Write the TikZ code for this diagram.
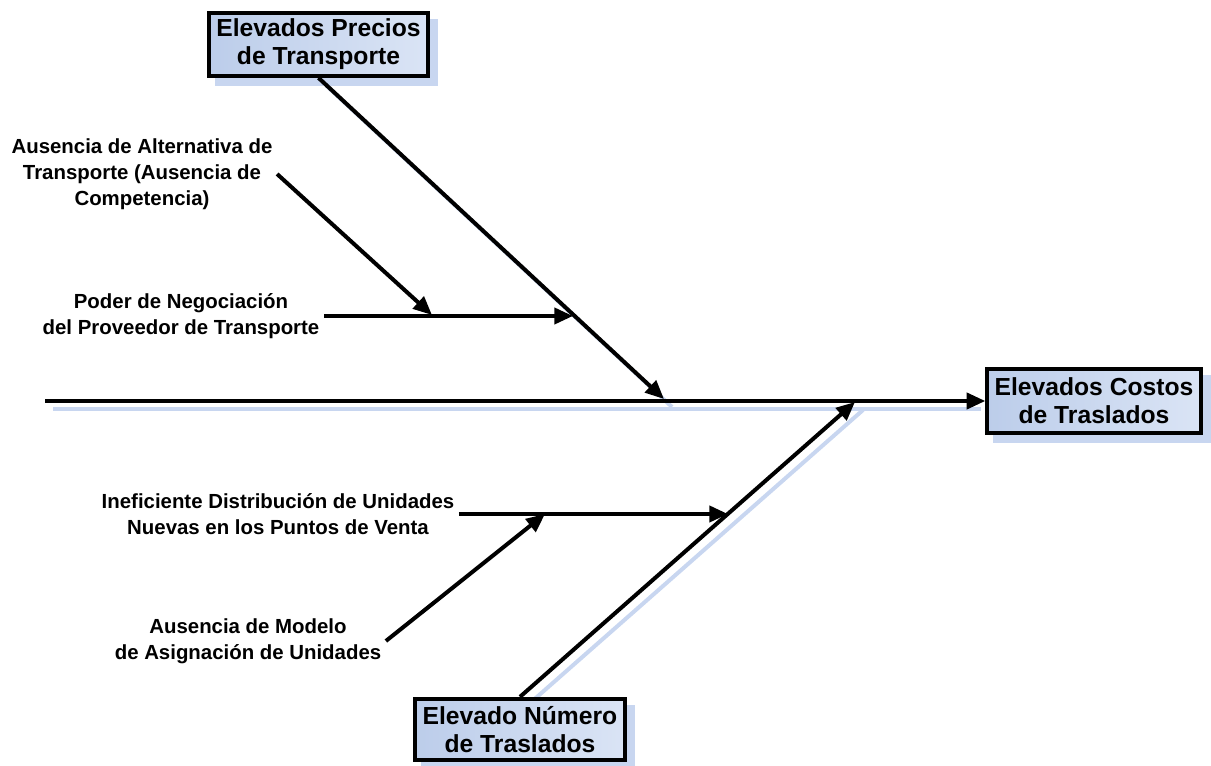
\documentclass[tikz,border=0pt]{standalone}
\usepackage{fontspec}
\setmainfont{Liberation Sans}
\usetikzlibrary{arrows.meta,backgrounds}
\definecolor{cajaazul}{RGB}{188,205,234}
\definecolor{cajaclara}{RGB}{218,228,245}
\definecolor{sombraazul}{RGB}{200,214,240}
\tikzset{
  causa/.style={draw=black, line width=3pt, left color=cajaazul, right color=cajaclara,
    align=center, inner sep=2pt, font=\bfseries\fontsize{18.5}{21}\selectfont},
  etiqueta/.style={align=center, font=\bfseries\fontsize{15.3}{19.5}\selectfont},
  espina/.style={line width=3pt, -{Triangle[length=14pt,width=12pt]}},
  sombra/.style={sombraazul, line width=3pt}
}
\begin{document}
\begin{tikzpicture}[x=0.75pt,y=-0.75pt]
  \useasboundingbox (0,0) rectangle (1211,766);

  \node[causa, minimum width=164pt, minimum height=47pt] (precios) at (318.5,44.5) {Elevados Precios\\de Transporte};
  \node[causa, minimum width=160pt, minimum height=48pt] (costos) at (1094,401) {Elevados Costos\\de Traslados};
  \node[causa, minimum width=157pt, minimum height=46pt] (numero) at (520,729.5) {Elevado Número\\de Traslados};

  \node[etiqueta] (alternativa) at (142,174) {Ausencia de Alternativa de\\Transporte (Ausencia de\\Competencia)};
  \node[etiqueta] (poder) at (181,316) {Poder de Negociación\\del Proveedor de Transporte};
  \node[etiqueta] (distribucion) at (278,514) {Ineficiente Distribución de Unidades\\Nuevas en los Puntos de Venta};
  \node[etiqueta] (modelo) at (248,641) {Ausencia de Modelo\\de Asignación de Unidades};

  \coordinate (cola) at (45,401);
  \coordinate (puntaPrecios) at (664,399);
  \coordinate (puntaNumero) at (855,402);
  \coordinate (puntaAlternativa) at (432,315);
  \coordinate (puntaPoder) at (573,316);
  \coordinate (puntaDistribucion) at (728,514);
  \coordinate (puntaModelo) at (545,514);

  % sombras
  \begin{scope}[on background layer]
    \fill[sombraazul] ([shift={(8,8)}]precios.north west) rectangle ([shift={(8,8)}]precios.south east);
    \fill[sombraazul] ([shift={(8,8)}]costos.north west) rectangle ([shift={(8,8)}]costos.south east);
    \fill[sombraazul] ([shift={(8,8)}]numero.north west) rectangle ([shift={(8,8)}]numero.south east);
    \draw[sombra] ([shift={(8,8)}]cola) -- ([shift={(-4,8)}]costos.west);
    \draw[sombra] ([shift={(8,8)}]precios.south) -- ([shift={(8,8)}]puntaPrecios);
    \draw[sombra] ([shift={(8,8)}]numero.north) -- ([shift={(8,8)}]puntaNumero);
  \end{scope}

  \draw[espina] (cola) -- (costos.west);
  \draw[espina] (precios.south) -- (puntaPrecios);
  \draw[espina] (numero.north) -- (puntaNumero);

  \draw[espina] (alternativa.east) -- (puntaAlternativa);
  \draw[espina] (poder.east) -- (puntaPoder);
  \draw[espina] (distribucion.east) -- (puntaDistribucion);
  \draw[espina] (modelo.east) -- (puntaModelo);
\end{tikzpicture}
\end{document}
